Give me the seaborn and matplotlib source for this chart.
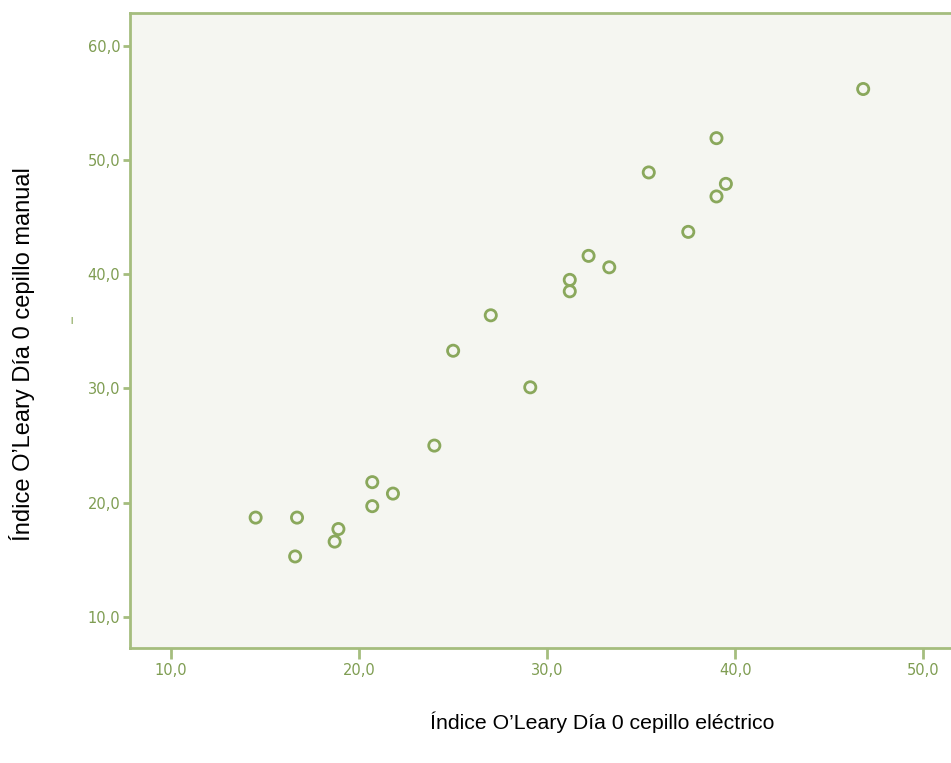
import numpy as np
import pandas as pd
import matplotlib
matplotlib.use("Agg")
import matplotlib.pyplot as plt
import seaborn as sns
from matplotlib.ticker import FuncFormatter

# Índice O'Leary, día 0: cepillo eléctrico (x) vs cepillo manual (y)
electrico = [14.5, 16.7, 16.6, 18.7, 18.9, 20.7, 20.7, 21.8, 24.0, 25.0, 27.0,
             29.1, 31.2, 31.2, 32.2, 33.3, 35.4, 37.5, 39.0, 39.0, 39.5, 46.8]
manual = [18.7, 18.7, 15.3, 16.6, 17.7, 21.8, 19.7, 20.8, 25.0, 33.3, 36.4,
          30.1, 39.5, 38.5, 41.6, 40.6, 48.9, 43.7, 51.9, 46.8, 47.9, 56.2]
x_ticks = [10, 20, 30, 40, 50]
y_ticks = [10, 20, 30, 40, 50, 60]
x_label = "Índice O’Leary Día 0 cepillo eléctrico"
y_label = "Índice O’Leary Día 0 cepillo manual"

green = "#8aa85c"
spine_green = "#a5bd7e"
tick_green = "#7f9d52"

sns.set_style("white")
plt.rcParams['font.family'] = ['Liberation Sans', 'DejaVu Sans']

df = pd.DataFrame({"x": electrico, "y": manual})

fig = plt.figure(figsize=(9.51, 7.63), dpi=100)
ax = fig.add_axes([130 / 951, 115 / 763, 831 / 951, 635 / 763])
ax.set_facecolor("#f5f6f1")

sns.scatterplot(data=df, x="x", y="y", ax=ax, marker="o", s=65,
                facecolor="none", edgecolor=green, linewidth=2.0)

ax.set_xlim(7.82, 52.0)
ax.set_ylim(7.29, 62.85)
ax.set_xticks(x_ticks)
ax.set_yticks(y_ticks)
fmt = FuncFormatter(lambda v, p: f"{v:.1f}".replace(".", ","))
ax.xaxis.set_major_formatter(fmt)
ax.yaxis.set_major_formatter(fmt)
ax.tick_params(axis="x", length=8, width=2, color=spine_green,
               labelcolor=tick_green, labelsize=10.5, pad=3)
ax.tick_params(axis="y", length=5, width=2, color=spine_green,
               labelcolor=tick_green, labelsize=10.5, pad=2)
ax.tick_params(bottom=True, left=True)
for lbl in ax.get_xticklabels() + ax.get_yticklabels():
    lbl.set_family("DejaVu Sans")
for side in ["left", "bottom", "top", "right"]:
    ax.spines[side].set_color(spine_green)
    ax.spines[side].set_linewidth(2)
ax.set_xlabel("")
ax.set_ylabel("")

fig.text(602 / 951, 1 - 722 / 763, x_label, ha="center", va="center",
         fontsize=15.3, color="black")
fig.text(22 / 951, 1 - 354 / 763, y_label, ha="center", va="center",
         rotation=90, fontsize=17, color="black")
fig.text(72 / 951, 1 - 320 / 763, "|", ha="center", va="center",
         fontsize=6, color=green, fontweight="bold")

fig.savefig("out.png", dpi=100)
